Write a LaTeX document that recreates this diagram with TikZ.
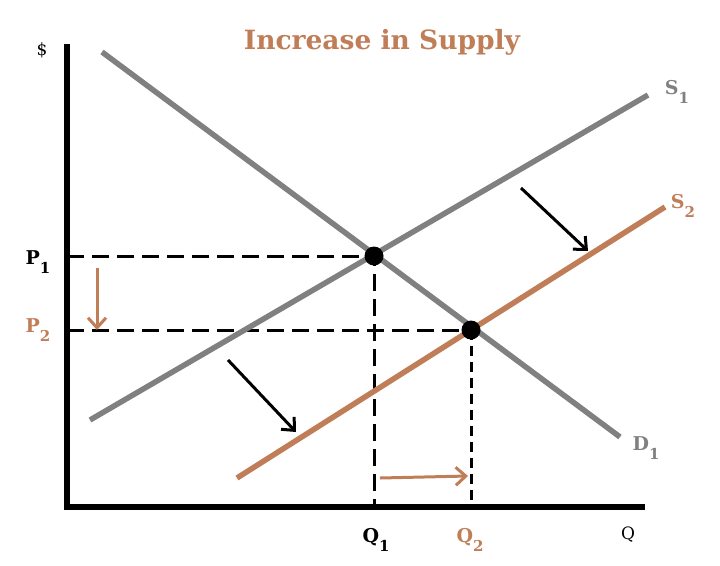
\documentclass[tikz,border=0pt]{standalone}
\usepackage{fontspec}
\setmainfont{DejaVu Serif}
\usetikzlibrary{positioning, arrows.meta}
\definecolor{supbrown}{RGB}{192,126,88}
\definecolor{curvegray}{RGB}{128,128,128}
\newcommand{\lbl}[2]{{\bfseries\fontsize{19}{20}\selectfont #1\raisebox{-0.45em}{\fontsize{15}{16}\selectfont #2}}}
\tikzset{
x=1pt, y=-1pt, % pixel-like coordinates
axis/.style={line width=6.5pt}, % the two axes
curve/.style={line width=5.5pt, curvegray}, % original curves
newcurve/.style={line width=5.5pt, supbrown}, % shifted supply
guide/.style={line width=3pt, dash pattern=on 17pt off 8pt}, % dashed guide lines
shiftarrow/.style={line width=3pt, -{Straight Barb[length=10pt, width=18pt, line width=3pt]}}, % shift arrows
eq/.style={circle, fill=black, inner sep=0pt, minimum size=19pt}, % equilibrium dots
plain/.style={font=\fontsize{17}{18}\selectfont}, % axis names
}

\begin{document}
\begin{tikzpicture}
    \useasboundingbox (0,0) rectangle (720,565);
    % axes
    \coordinate (top) at (67,44);
    \coordinate (O) at (67,507);
    \coordinate (qend) at (645,507);
    \draw[axis] (top) -- (O) -- (qend);
    % equilibria
    \coordinate (e1) at (374,256);
    \coordinate (e2) at (471,330);
    \coordinate (p1) at (67,256);
    \coordinate (p2) at (67,330);
    \coordinate (q1) at (374,507);
    \coordinate (q2) at (471,507);
    \draw[guide] (p1) -- (e1) -- (q1);
    \draw[guide] (p2) -- (e2);
    \draw[guide, dash pattern=on 10pt off 6pt] (e2) -- (q2);
    % curves
    \coordinate (d1a) at (102,52);
    \coordinate (d1b) at (620,437);
    \coordinate (s1a) at (90,420);
    \coordinate (s1b) at (648,95);
    \coordinate (s2a) at (237,478);
    \coordinate (s2b) at (665,207);
    \draw[curve] (d1a) -- (d1b);
    \draw[curve] (s1a) -- (s1b);
    \draw[newcurve] (s2a) -- (s2b);
    \node[eq] (dot1) at (e1) {};
    \node[eq] (dot2) at (e2) {};
    % labels
    \node[plain] (dollar) at (42,50) {\$};
    \node[supbrown, font=\bfseries\fontsize{26.5}{28}\selectfont] (title) at (382,42) {Increase in Supply};
    \node (lp1) at (38,262) {\lbl{P}{1}};
    \node[supbrown] (lp2) at (38,330) {\lbl{P}{2}};
    \node (lq1) at (376,540) {\lbl{Q}{1}};
    \node[supbrown] (lq2) at (470,540) {\lbl{Q}{2}};
    \node[plain] (lq) at (628,535) {Q};
    \node[curvegray] (ls1) at (677,92) {\lbl{S}{1}};
    \node[supbrown] (ls2) at (683,206) {\lbl{S}{2}};
    \node[curvegray] (ld1) at (646,448) {\lbl{D}{1}};
    % shift arrows
    \coordinate (pa) at (97,268);
    \coordinate (pb) at (97,330);
    \coordinate (qa) at (380,478);
    \coordinate (qb) at (468,476);
    \draw[shiftarrow, supbrown] (pa) -- (pb);
    \draw[shiftarrow, supbrown] (qa) -- (qb);
    \coordinate (la) at (228,360);
    \coordinate (lb) at (296,432);
    \coordinate (ra) at (521,188);
    \coordinate (rb) at (588,251);
    \draw[shiftarrow] (la) -- (lb);
    \draw[shiftarrow] (ra) -- (rb);
\end{tikzpicture}
\end{document}
